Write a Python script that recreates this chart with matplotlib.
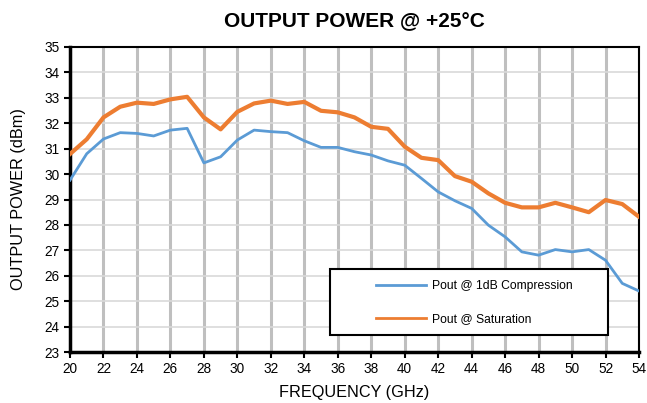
import matplotlib
matplotlib.use("Agg")
import matplotlib.pyplot as plt
from matplotlib.patches import Rectangle
import numpy as np

plt.rcParams['font.family'] = ['Liberation Sans', 'DejaVu Sans']

freq_ghz = list(range(20, 55))
pout_1db = [29.76, 30.80, 31.38, 31.63, 31.60, 31.50, 31.73, 31.80, 30.44, 30.68,
            31.34, 31.73, 31.67, 31.63, 31.31, 31.05, 31.05, 30.88, 30.75, 30.52,
            30.35, 29.83, 29.30, 28.95, 28.65, 27.99, 27.53, 26.94, 26.81, 27.03,
            26.94, 27.03, 26.61, 25.70, 25.40]
pout_sat = [30.79, 31.37, 32.23, 32.65, 32.81, 32.76, 32.94, 33.04, 32.23, 31.76,
            32.45, 32.78, 32.89, 32.76, 32.84, 32.49, 32.43, 32.23, 31.86, 31.78,
            31.08, 30.64, 30.55, 29.92, 29.70, 29.24, 28.87, 28.69, 28.69, 28.87,
            28.69, 28.50, 28.98, 28.82, 28.32]
series_labels = ["Pout @ 1dB Compression", "Pout @ Saturation"]
title = "OUTPUT POWER @ +25°C"
xlabel = "FREQUENCY (GHz)"
ylabel = "OUTPUT POWER (dBm)"

W, H = 647, 403
fig = plt.figure(figsize=(W/100, H/100), dpi=100)
ax = fig.add_axes([70/W, 1-352/H, (639-70)/W, (352-47)/H])

ax.plot(freq_ghz, pout_1db, color='#5B9BD5', lw=2.0, label=series_labels[0], zorder=3)
ax.plot(freq_ghz, pout_sat, color='#ED7D31', lw=3.0, label=series_labels[1], zorder=3)

ax.set_xlim(20, 54)
ax.set_ylim(23, 35)
ax.set_xticks(np.arange(20, 55, 2))
ax.set_yticks(np.arange(23, 36, 1))
ax.grid(axis='y', color='#D9D9D9', lw=1.2, zorder=0)
ax.grid(axis='x', color='#BFBFBF', lw=2.2, zorder=0)
ax.set_axisbelow(True)

for s in ['left', 'bottom']:
    ax.spines[s].set_linewidth(2.5)
for s in ['top', 'right']:
    ax.spines[s].set_linewidth(1.5)
for s in ax.spines.values():
    s.set_color('black')
ax.tick_params(axis='both', direction='out', length=4, width=1.5, labelsize=9.8, colors='black')

ax.set_title(title, fontsize=15, fontweight='bold', pad=14)
ax.set_xlabel(xlabel, fontsize=11.7, labelpad=6)
ax.set_ylabel(ylabel, fontsize=11.7, labelpad=13)

# legend frame drawn as a figure-pixel rectangle
lx0, ly0, lx1, ly1 = 330, 269, 608, 335
frame = Rectangle((lx0/W, 1-ly1/H), (lx1-lx0)/W, (ly1-ly0)/H, transform=fig.transFigure,
                  facecolor='white', edgecolor='black', lw=1.5, zorder=5)
fig.add_artist(frame)

leg = fig.legend(loc='upper left', bbox_to_anchor=(376/W, 1-280/H), frameon=False,
                 fontsize=8.7, handlelength=4.1, borderpad=0.0, labelspacing=1.75,
                 handletextpad=0.5, borderaxespad=0)
leg.set_zorder(6)
for line in leg.get_lines():
    line.set_linewidth(2.0)

fig.savefig('out.png', dpi=100)
